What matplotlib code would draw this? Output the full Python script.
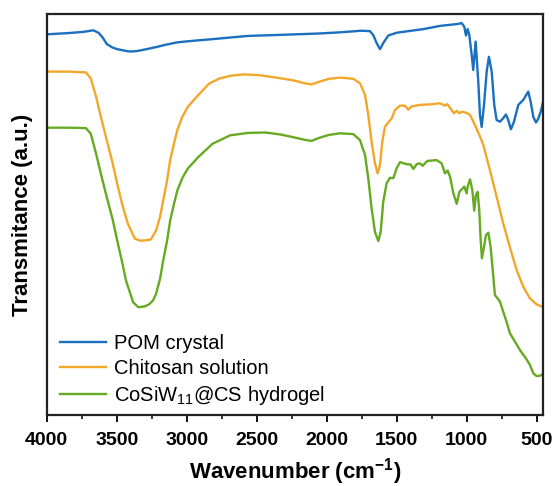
import matplotlib
matplotlib.use('Agg')
import matplotlib.pyplot as plt
from matplotlib.ticker import MultipleLocator

plt.rcParams['font.family'] = ['Liberation Sans', 'DejaVu Sans']
plt.rcParams['mathtext.default'] = 'regular'

# FTIR spectra (wavenumber in cm-1, transmittance in a.u., offset)
pom_wn = [4000, 3850, 3740, 3667, 3630, 3600, 3571, 3530, 3496, 3440, 3405, 3360,
          3300, 3220, 3150, 3067, 2950, 2815, 2563, 2300, 2059, 1905, 1750, 1691,
          1667, 1643, 1619, 1596, 1560, 1500, 1310, 1191, 1060, 1036, 1017, 1005,
          993, 981, 964, 953, 936, 917, 905, 893, 876, 857, 841, 821, 803, 786,
          762, 743, 719, 703, 684, 662, 631, 596, 560, 543, 524, 505, 489, 471, 457]
pom_t = [95.0, 95.3, 95.6, 96.0, 95.4, 94.2, 92.6, 91.7, 91.3, 90.9, 90.7, 90.8,
         91.2, 91.8, 92.4, 93.0, 93.4, 93.8, 94.6, 94.9, 95.2, 95.5, 95.9, 95.8,
         94.8, 92.8, 91.3, 92.8, 94.7, 95.4, 96.3, 97.1, 97.6, 97.8, 96.9, 94.7,
         96.3, 94.8, 89.8, 86.1, 93.2, 83.2, 74.9, 71.9, 77.4, 85.7, 89.4, 85.7,
         77.4, 73.6, 73.2, 73.9, 75.0, 73.6, 71.3, 73.2, 77.4, 78.6, 80.7, 78.2,
         74.4, 73.0, 73.9, 75.7, 77.8]

cs_wn = [4000, 3850, 3720, 3685, 3647, 3610, 3571, 3530, 3496, 3460, 3420, 3370,
         3332, 3290, 3256, 3219, 3190, 3168, 3140, 3118, 3090, 3067, 3030, 2992,
         2929, 2891, 2840, 2765, 2680, 2588, 2480, 2361, 2235, 2160, 2109, 2050,
         1983, 1905, 1810, 1762, 1726, 1703, 1679, 1655, 1636, 1619, 1603, 1584,
         1560, 1536, 1512, 1476, 1441, 1417, 1393, 1334, 1262, 1191, 1155, 1139,
         1114, 1091, 1071, 1052, 1036, 1000, 976, 941, 905, 881, 834, 786, 739,
         679, 643, 596, 548, 500, 457]
cs_t = [85.7, 85.7, 85.5, 84.0, 79.4, 74.0, 68.6, 63.0, 57.7, 52.5, 47.7, 44.0,
        43.5, 43.6, 43.8, 46.0, 49.5, 53.5, 58.5, 63.6, 67.8, 71.1, 74.5, 76.9,
        79.4, 80.8, 82.7, 84.0, 84.7, 85.0, 84.8, 84.2, 83.5, 82.8, 82.5, 83.2,
        83.9, 84.2, 83.9, 82.8, 79.9, 74.9, 68.2, 62.8, 60.3, 62.4, 68.2, 71.9,
        73.0, 74.0, 76.1, 77.2, 77.2, 76.2, 77.0, 77.4, 77.5, 77.8, 77.2, 77.6,
        76.4, 75.3, 75.9, 75.3, 75.7, 75.4, 74.9, 72.4, 69.5, 67.4, 61.1, 54.5,
        47.8, 40.4, 36.2, 32.0, 29.1, 27.6, 27.0]

gel_wn = [4000, 3850, 3720, 3685, 3647, 3610, 3571, 3530, 3496, 3460, 3433, 3400,
          3382, 3345, 3300, 3269, 3240, 3219, 3190, 3168, 3140, 3118, 3090, 3067,
          3030, 2992, 2916, 2815, 2689, 2560, 2437, 2330, 2235, 2160, 2109, 2050,
          1983, 1905, 1810, 1762, 1726, 1703, 1679, 1655, 1631, 1614, 1596, 1572,
          1548, 1524, 1500, 1476, 1429, 1400, 1381, 1357, 1334, 1314, 1281, 1214,
          1179, 1155, 1136, 1119, 1095, 1071, 1052, 1036, 1017, 1000, 993, 976,
          960, 946, 934, 922, 910, 900, 891, 876, 862, 845, 829, 814, 798, 786,
          762, 743, 719, 691, 655, 619, 576, 548, 524, 500, 476, 457]
gel_t = [71.7, 71.7, 71.6, 70.2, 65.2, 59.8, 54.4, 49.0, 43.5, 38.0, 33.5, 30.0,
         28.1, 26.9, 27.1, 27.6, 28.6, 30.2, 34.0, 38.5, 43.5, 48.5, 52.8, 56.0,
         59.2, 61.5, 64.4, 67.7, 69.8, 70.4, 70.5, 70.0, 69.3, 68.7, 68.4, 69.2,
         69.9, 70.3, 70.1, 68.6, 64.9, 59.1, 51.6, 45.7, 43.4, 45.7, 53.2, 57.8,
         59.2, 59.1, 61.6, 63.1, 62.6, 62.5, 61.4, 62.6, 62.8, 62.2, 63.4, 63.6,
         62.8, 60.3, 61.0, 59.5, 55.3, 52.7, 55.7, 56.3, 57.0, 55.3, 57.0, 58.8,
         56.2, 51.0, 54.9, 55.7, 51.2, 43.7, 39.1, 42.0, 44.9, 45.5, 42.0, 36.2,
         29.9, 29.4, 28.3, 26.2, 23.7, 20.4, 18.3, 16.2, 14.1, 12.5, 10.4, 9.7,
         9.8, 10.2]

fig = plt.figure(figsize=(5.55, 4.86), dpi=100)
ax = fig.add_axes([0.0841, 0.1461, 0.8937, 0.8245])

ax.plot(pom_wn, pom_t, color='#1a6fbf', lw=1.7, label='POM crystal')
ax.plot(cs_wn, cs_t, color='#f2a72a', lw=1.7, label='Chitosan solution')
ax.plot(gel_wn, gel_t, color='#66aa22', lw=1.7, label='CoSiW$_{11}$@CS hydrogel')

ax.set_xlim(4000, 457)
ax.set_ylim(0, 100)
ax.xaxis.set_major_locator(MultipleLocator(500))
ax.xaxis.set_minor_locator(MultipleLocator(250))
ax.set_yticks([])
ax.tick_params(axis='x', which='major', direction='out', length=5, width=1.3, pad=7)
ax.tick_params(axis='x', which='minor', direction='out', length=3, width=1.1)
for lbl in ax.get_xticklabels():
    lbl.set_fontsize(14)
    lbl.set_fontweight('bold')
for sp in ax.spines.values():
    sp.set_linewidth(1.6)
    sp.set_color('#222222')

ax.set_xlabel('Wavenumber (cm$^{-1}$)', fontsize=16, fontweight='bold', labelpad=5)
ax.set_ylabel('Transmitance (a.u.)', fontsize=16, fontweight='bold', labelpad=10)

ax.legend(loc='lower left', bbox_to_anchor=(0.015, 0.005), frameon=False,
          fontsize=14.5, handlelength=2.3, handletextpad=0.35, labelspacing=0.3,
          borderaxespad=0, borderpad=0.3)

fig.savefig('out.png', dpi=100)
